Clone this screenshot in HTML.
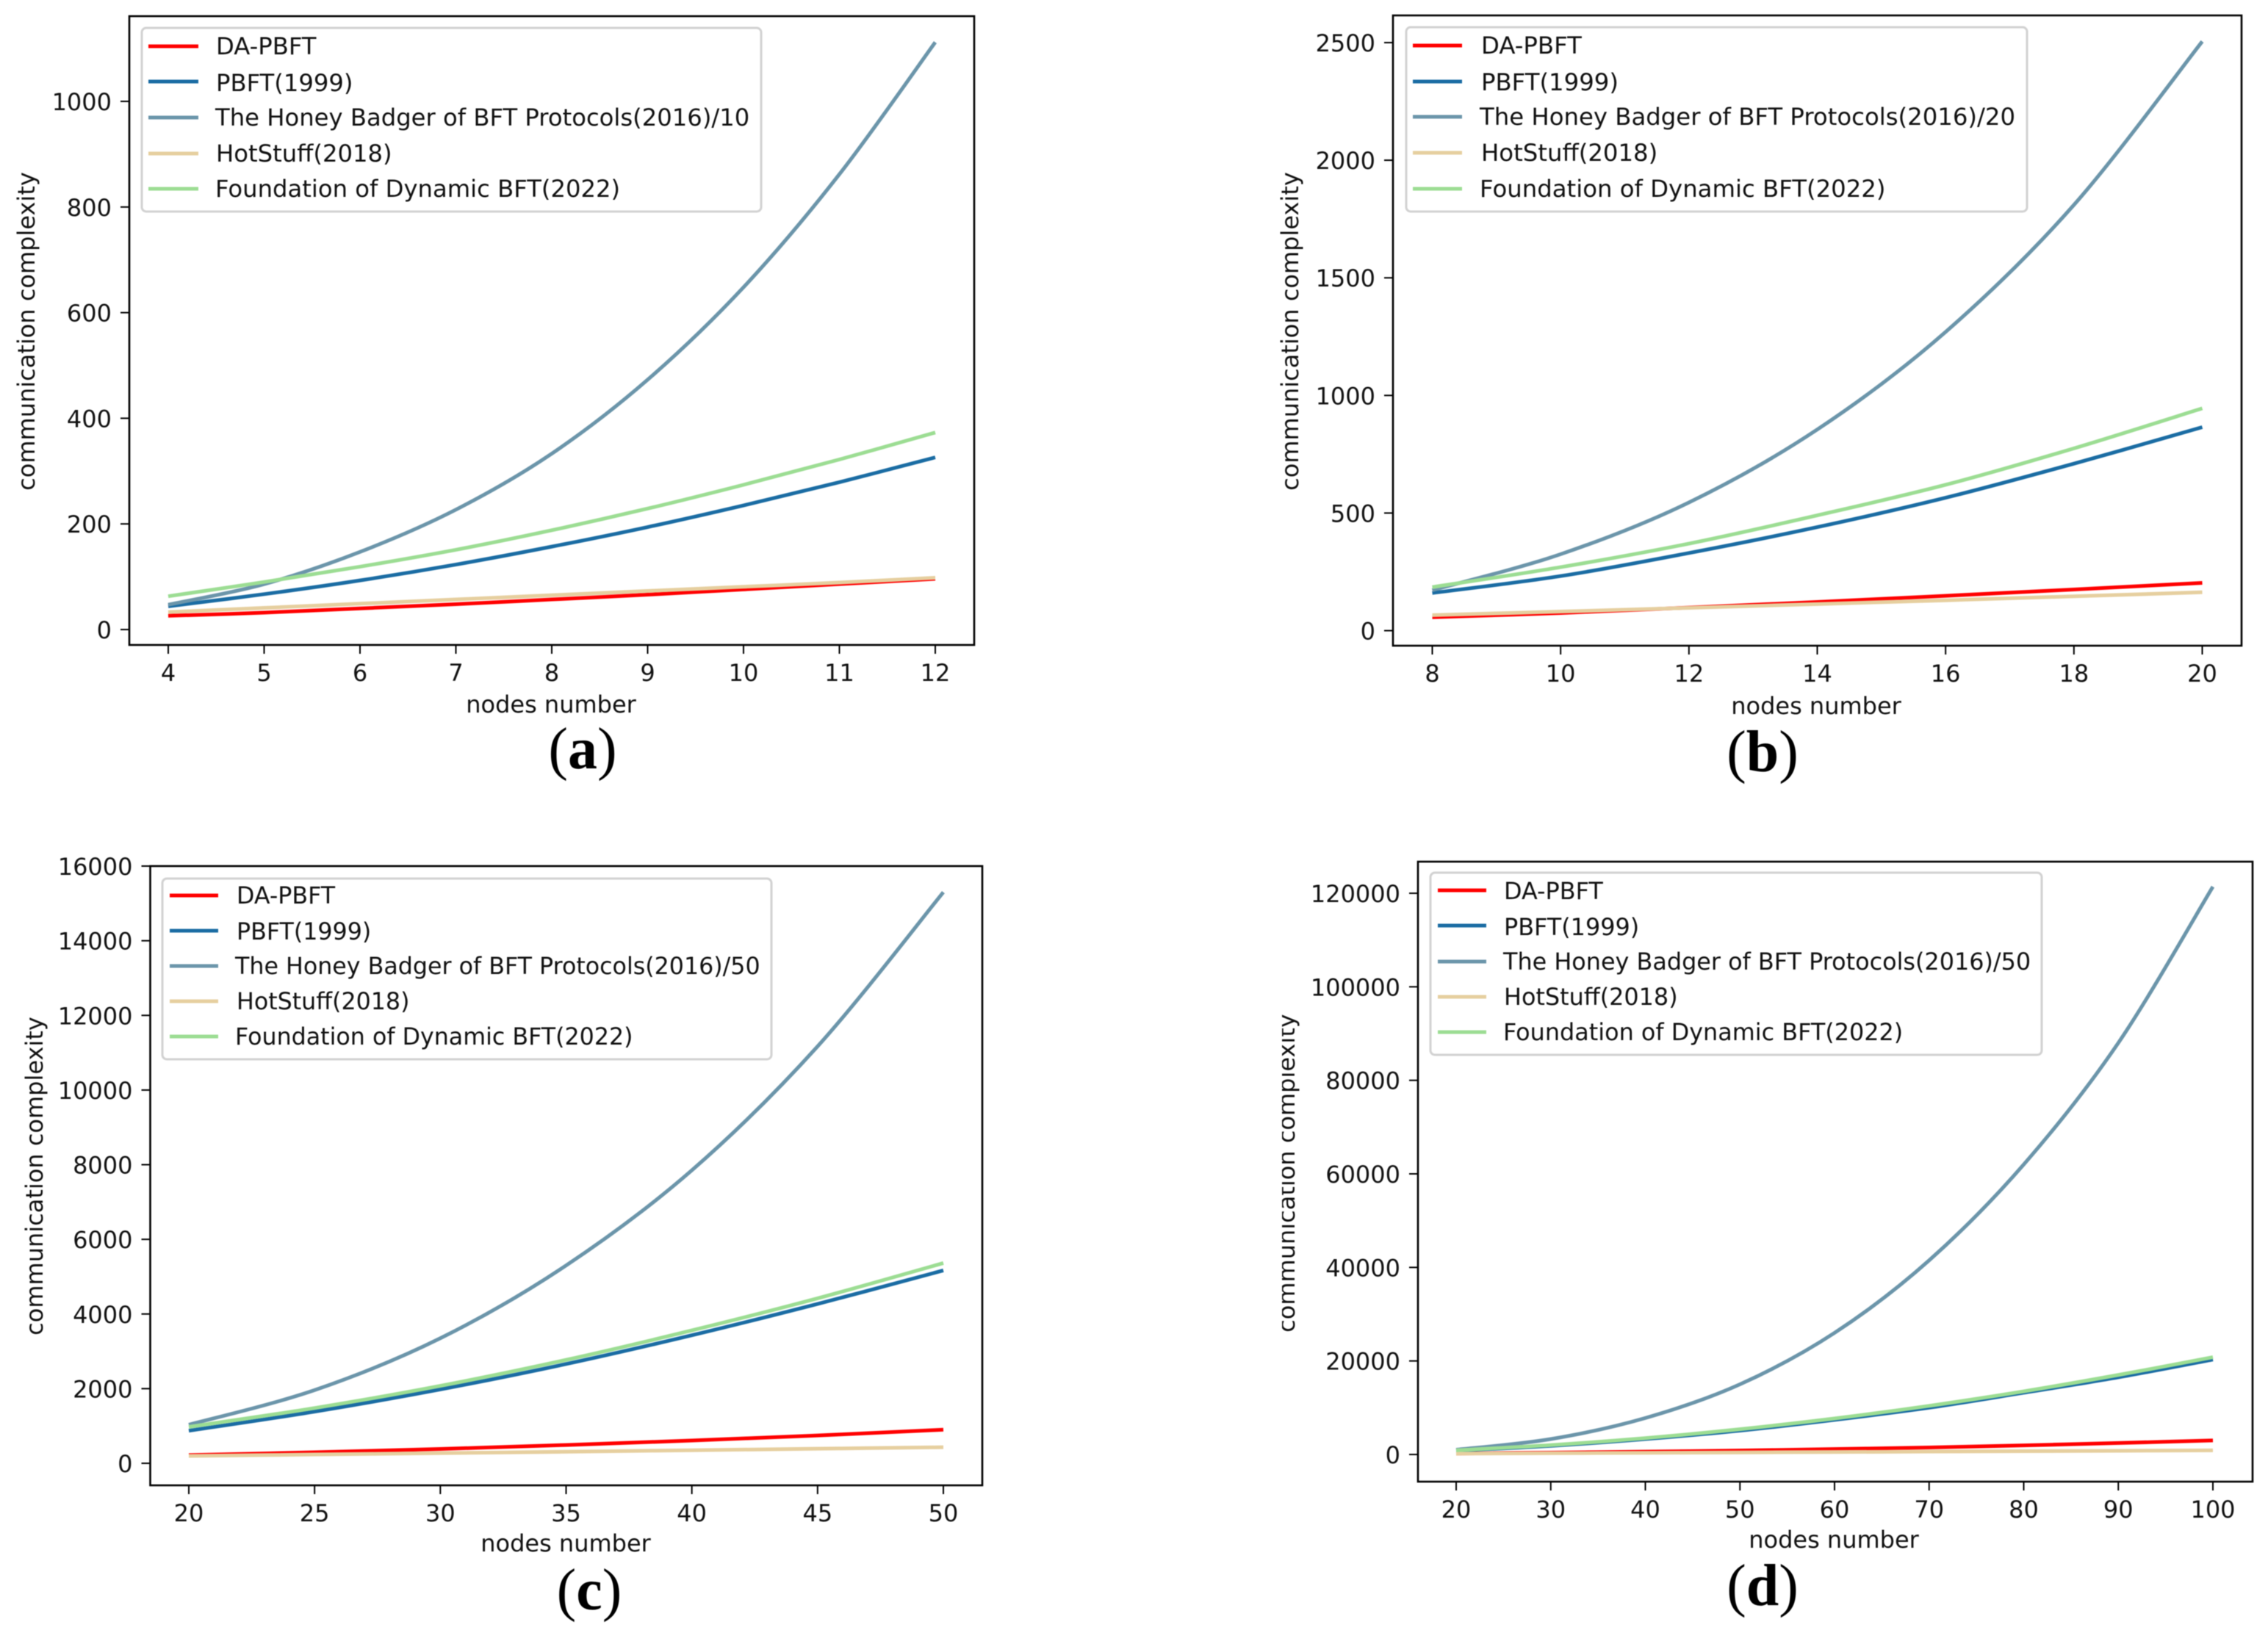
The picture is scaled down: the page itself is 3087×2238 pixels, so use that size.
<!DOCTYPE html>
<html lang="en">
<head>
<meta charset="utf-8">
<title>Communication complexity comparison</title>
<style>
html,body{margin:0;padding:0;background:#fff;width:3087px;height:2238px;overflow:hidden}
svg{display:block;filter:blur(.6px)}
text{font-family:"DejaVu Sans","Liberation Sans",sans-serif;font-size:32px;fill:#111}
.cap{font-family:"Liberation Serif",serif;font-weight:400;font-size:80px;fill:#000;text-anchor:middle}
.cap tspan{font-weight:700}
.lg{fill:#fff;fill-opacity:.9;stroke:#d2d2d2;stroke-width:3}
.frame{fill:none;stroke:#000;stroke-width:2.6}
.l1{stroke:#ff0000;stroke-width:5}.l2{stroke:#1a6ca3;stroke-width:5}.l3{stroke:#6b95aa;stroke-width:5}.l4{stroke:#e6cf9f;stroke-width:5}.l5{stroke:#9cdd93;stroke-width:5}
.fa text{font-size:32.26px}.fb text{font-size:32.35px}.fc text{font-size:31.7px}.fd text{font-size:31.85px}
</style>
</head>
<body>
<svg xmlns="http://www.w3.org/2000/svg" width="3087" height="2238" viewBox="0 0 3087 2238">
<rect width="3087" height="2238" fill="#fff"/>

<g id="panel-a">
<g class="marks"></g>
<rect class="frame" x="176" y="22" width="1150" height="856"/>
<text transform="translate(47,451) rotate(-90)" text-anchor="middle">communication complexity</text>
<text x="750" y="970" text-anchor="middle">nodes number</text>
<g class="fa">
<rect class="lg" x="193" y="38" width="843" height="250" rx="6"/>
<line class="l1" x1="202" x2="270" y1="63" y2="63"/><text x="294" y="74">DA-PBFT</text>
<line class="l2" x1="202" x2="270" y1="111" y2="111"/><text x="294" y="124">PBFT(1999)</text>
<line class="l3" x1="202" x2="270" y1="160" y2="160"/><text x="293" y="171">The Honey Badger of BFT Protocols(2016)/10</text>
<line class="l4" x1="202" x2="270" y1="209" y2="209"/><text x="294" y="220">HotStuff(2018)</text>
<line class="l5" x1="202" x2="270" y1="257" y2="257"/><text x="293" y="268">Foundation of Dynamic BFT(2022)</text>
</g>
<text class="cap" x="793" y="1046">(<tspan>a</tspan>)</text>
</g>

<g id="panel-b">
<g class="marks"></g>
<rect class="frame" x="1896" y="21" width="1155" height="858"/>
<text transform="translate(1767,451) rotate(-90)" text-anchor="middle">communication complexity</text>
<text x="2472" y="972" text-anchor="middle">nodes number</text>
<g class="fb">
<rect class="lg" x="1914" y="37" width="845" height="251" rx="6"/>
<line class="l1" x1="1923" x2="1990" y1="62" y2="62"/><text x="2016" y="73">DA-PBFT</text>
<line class="l2" x1="1923" x2="1990" y1="111" y2="111"/><text x="2016" y="123">PBFT(1999)</text>
<line class="l3" x1="1923" x2="1990" y1="159" y2="159"/><text x="2014" y="170">The Honey Badger of BFT Protocols(2016)/20</text>
<line class="l4" x1="1923" x2="1990" y1="208" y2="208"/><text x="2016" y="219">HotStuff(2018)</text>
<line class="l5" x1="1923" x2="1990" y1="257" y2="257"/><text x="2014" y="268">Foundation of Dynamic BFT(2022)</text>
</g>
<text class="cap" x="2399" y="1050">(<tspan>b</tspan>)</text>
</g>

<g id="panel-c">
<g class="marks"></g>
<rect class="frame" x="204.5" y="1179" width="1132.5" height="843"/>
<text transform="translate(58,1601) rotate(-90)" text-anchor="middle">communication complexity</text>
<text x="770" y="2112" text-anchor="middle">nodes number</text>
<g class="fc">
<rect class="lg" x="221" y="1196" width="829" height="246" rx="6"/>
<line class="l1" x1="231" x2="297" y1="1219" y2="1219"/><text x="322" y="1230">DA-PBFT</text>
<line class="l2" x1="231" x2="297" y1="1267" y2="1267"/><text x="322" y="1279">PBFT(1999)</text>
<line class="l3" x1="231" x2="297" y1="1315" y2="1315"/><text x="320" y="1326">The Honey Badger of BFT Protocols(2016)/50</text>
<line class="l4" x1="231" x2="297" y1="1363" y2="1363"/><text x="322" y="1374">HotStuff(2018)</text>
<line class="l5" x1="231" x2="297" y1="1411" y2="1411"/><text x="320" y="1422">Foundation of Dynamic BFT(2022)</text>
</g>
<text class="cap" x="802" y="2191">(<tspan>c</tspan>)</text>
</g>

<g id="panel-d">
<g class="marks"></g>
<rect class="frame" x="1930" y="1173" width="1136" height="844"/>
<text transform="translate(1762,1597) rotate(-90)" text-anchor="middle">communication complexity</text>
<rect x="1735" y="1370" width="10" height="450" fill="#fff"/>
<text x="2496" y="2107" text-anchor="middle">nodes number</text>
<g class="fd">
<rect class="lg" x="1947" y="1188" width="832" height="248" rx="6"/>
<line class="l1" x1="1957" x2="2023" y1="1212" y2="1212"/><text x="2047" y="1224">DA-PBFT</text>
<line class="l2" x1="1957" x2="2023" y1="1260" y2="1260"/><text x="2047" y="1273">PBFT(1999)</text>
<line class="l3" x1="1957" x2="2023" y1="1309" y2="1309"/><text x="2046" y="1320">The Honey Badger of BFT Protocols(2016)/50</text>
<line class="l4" x1="1957" x2="2023" y1="1357" y2="1357"/><text x="2047" y="1368">HotStuff(2018)</text>
<line class="l5" x1="1957" x2="2023" y1="1405" y2="1405"/><text x="2046" y="1416">Foundation of Dynamic BFT(2022)</text>
</g>
<text class="cap" x="2399" y="2185">(<tspan>d</tspan>)</text>
</g>
</svg>

<script>
// Panel (a)
const nodesA = [4, 5, 6, 7, 8, 9, 10, 11, 12];
const daPbftA = [26, 32, 40, 48, 57, 66, 76, 86, 96];
const pbftA = [44, 67, 93, 123, 157, 194, 235, 279, 326];
const honeyA = [47, 86, 147, 227, 333, 473, 648, 862, 1112];
const hotstuffA = [33, 41, 49, 57, 65, 73, 81, 89, 98];
const dynamicA = [63, 90, 119, 151, 188, 229, 274, 322, 373];
const xTicksA = [4, 5, 6, 7, 8, 9, 10, 11, 12];
const yTicksA = [0, 200, 400, 600, 800, 1000];

// Panel (b)
const nodesB = [8, 10, 12, 14, 16, 18, 20];
const daPbftB = [57, 75, 98, 122, 148, 175, 203];
const pbftB = [160, 232, 330, 440, 565, 710, 865];
const honeyB = [172, 325, 545, 855, 1270, 1810, 2505];
const hotstuffB = [66, 81, 97, 113, 129, 146, 163];
const dynamicB = [185, 270, 370, 490, 620, 775, 945];
const xTicksB = [8, 10, 12, 14, 16, 18, 20];
const yTicksB = [0, 500, 1000, 1500, 2000, 2500];

// Panel (c)
const nodesC = [20, 25, 30, 35, 40, 45, 50];
const daPbftC = [218, 295, 385, 490, 610, 745, 900];
const pbftC = [873, 1385, 1980, 2660, 3430, 4270, 5167];
const honeyC = [1033, 1960, 3350, 5300, 7850, 11170, 15300];
const hotstuffC = [196, 235, 272, 310, 350, 390, 430];
const dynamicC = [975, 1480, 2075, 2770, 3560, 4420, 5364];
const xTicksC = [20, 25, 30, 35, 40, 45, 50];
const yTicksC = [0, 2000, 4000, 6000, 8000, 10000, 12000, 14000, 16000];

// Panel (d)
const nodesD = [20, 30, 40, 50, 60, 70, 80, 90, 100];
const daPbftD = [200, 400, 600, 850, 1150, 1500, 1950, 2450, 3000];
const pbftD = [800, 1850, 3300, 5100, 7400, 10000, 13200, 16500, 20300];
const honeyD = [1000, 3300, 7800, 15000, 26000, 41500, 62000, 88000, 121400];
const hotstuffD = [180, 270, 350, 440, 530, 620, 700, 790, 880];
const dynamicD = [900, 2000, 3500, 5400, 7700, 10400, 13500, 17000, 20800];
const xTicksD = [20, 30, 40, 50, 60, 70, 80, 90, 100];
const yTicksD = [0, 20000, 40000, 60000, 80000, 100000, 120000];

const NS = 'http://www.w3.org/2000/svg';

function make(tag, attrs) {
  const el = document.createElementNS(NS, tag);
  for (const k in attrs) el.setAttribute(k, attrs[k]);
  return el;
}

// Smooth curve through the data points (Catmull-Rom to Bezier).
function curve(pts) {
  let d = 'M' + pts[0][0].toFixed(2) + ' ' + pts[0][1].toFixed(2);
  for (let i = 0; i < pts.length - 1; i++) {
    const p0 = pts[Math.max(0, i - 1)], p1 = pts[i], p2 = pts[i + 1], p3 = pts[Math.min(pts.length - 1, i + 2)];
    const c1x = p1[0] + (p2[0] - p0[0]) / 6, c1y = p1[1] + (p2[1] - p0[1]) / 6;
    const c2x = p2[0] - (p3[0] - p1[0]) / 6, c2y = p2[1] - (p3[1] - p1[1]) / 6;
    d += 'C' + c1x.toFixed(2) + ' ' + c1y.toFixed(2) + ' ' + c2x.toFixed(2) + ' ' + c2y.toFixed(2) + ' ' + p2[0].toFixed(2) + ' ' + p2[1].toFixed(2);
  }
  return d;
}

function drawPanel(id, geo, nodes, xTicks, yTicks, series) {
  const root = document.querySelector('#panel-' + id + ' .marks');
  const xMin = xTicks[0], xMax = xTicks[xTicks.length - 1];
  const yMin = yTicks[0], yMax = yTicks[yTicks.length - 1];
  const xScale = v => geo.xStart + (v - xMin) / (xMax - xMin) * (geo.xEnd - geo.xStart);
  const yScale = v => geo.yStart + (v - yMin) / (yMax - yMin) * (geo.yEnd - geo.yStart);

  xTicks.forEach(v => {
    const x = xScale(v);
    const tick = make('line', {x1: x, x2: x, y1: geo.bottom, y2: geo.bottom + 12, stroke: '#000', 'stroke-width': 2});
    
    
    root.appendChild(tick);
    const label = make('text', {x: x, y: geo.bottom + 49, 'text-anchor': 'middle'});
    
    
    label.textContent = String(v);
    root.appendChild(label);
  });

  yTicks.forEach(v => {
    const y = yScale(v);
    const tick = make('line', {x1: geo.left - 12, x2: geo.left, y1: y, y2: y, stroke: '#000', 'stroke-width': 2});
    
    
    root.appendChild(tick);
    const label = make('text', {x: geo.left - 24, y: y + 12, 'text-anchor': 'end'});
    
    
    label.textContent = String(v);
    root.appendChild(label);
  });

  series.forEach(s => {
    const pts = nodes.map((n, i) => [xScale(n), yScale(s.values[i])]);
    const path = make('path', {d: curve(pts), fill: 'none', class: s.cls});
    
    
    root.appendChild(path);
  });
}

drawPanel('a', {left: 176, bottom: 878, xStart: 229, xEnd: 1273, yStart: 857, yEnd: 138}, nodesA, xTicksA, yTicksA, [
  {name: 'da-pbft', cls: 'l1', values: daPbftA},
  {name: 'pbft', cls: 'l2', values: pbftA},
  {name: 'honey-badger', cls: 'l3', values: honeyA},
  {name: 'hotstuff', cls: 'l4', values: hotstuffA},
  {name: 'dynamic-bft', cls: 'l5', values: dynamicA}
]);
drawPanel('b', {left: 1896, bottom: 879, xStart: 1949.5, xEnd: 2997.5, yStart: 858.5, yEnd: 58}, nodesB, xTicksB, yTicksB, [
  {name: 'da-pbft', cls: 'l1', values: daPbftB},
  {name: 'pbft', cls: 'l2', values: pbftB},
  {name: 'honey-badger', cls: 'l3', values: honeyB},
  {name: 'hotstuff', cls: 'l4', values: hotstuffB},
  {name: 'dynamic-bft', cls: 'l5', values: dynamicB}
]);
drawPanel('c', {left: 204.5, bottom: 2022, xStart: 257, xEnd: 1284, yStart: 1992, yEnd: 1179}, nodesC, xTicksC, yTicksC, [
  {name: 'da-pbft', cls: 'l1', values: daPbftC},
  {name: 'pbft', cls: 'l2', values: pbftC},
  {name: 'honey-badger', cls: 'l3', values: honeyC},
  {name: 'hotstuff', cls: 'l4', values: hotstuffC},
  {name: 'dynamic-bft', cls: 'l5', values: dynamicC}
]);
drawPanel('d', {left: 1930, bottom: 2017, xStart: 1982, xEnd: 3012, yStart: 1980, yEnd: 1216}, nodesD, xTicksD, yTicksD, [
  {name: 'da-pbft', cls: 'l1', values: daPbftD},
  {name: 'pbft', cls: 'l2', values: pbftD},
  {name: 'honey-badger', cls: 'l3', values: honeyD},
  {name: 'hotstuff', cls: 'l4', values: hotstuffD},
  {name: 'dynamic-bft', cls: 'l5', values: dynamicD}
]);
</script>
</body>
</html>
